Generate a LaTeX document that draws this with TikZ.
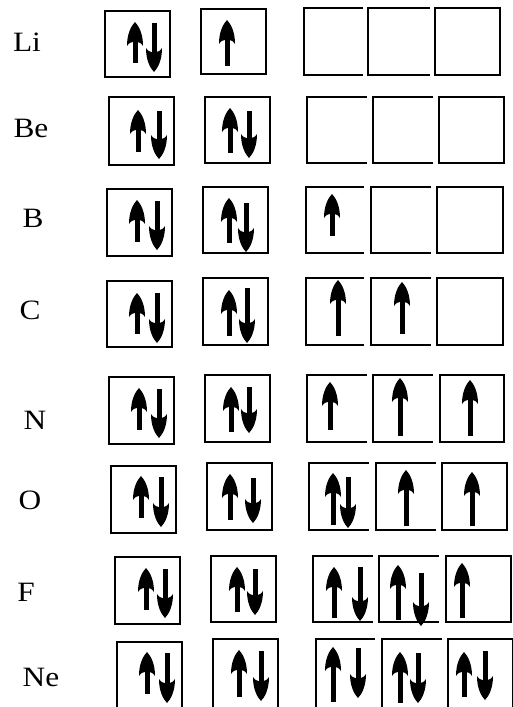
\documentclass[tikz,border=0pt]{standalone}
\usepackage{fontspec}
\setmainfont{Liberation Serif}
\newcommand\headpath{(0,0) .. controls (-4,-4) and (-8,-12) .. (-8,-24)
     .. controls (-6,-21) and (-4,-20) .. (-2.5,-20) -- (2.5,-20)
     .. controls (4,-20) and (6,-21) .. (8,-24)
     .. controls (8,-12) and (4,-4) .. (0,0) -- cycle}
\newcommand\upar[3]{%
  \fill (#1-2.5,-#3) rectangle (#1+2.5,-#2-19);
  \fill[shift={(#1,-#2)}] \headpath;}
\newcommand\dnar[3]{%
  \fill (#1-2.5,-#2) rectangle (#1+2.5,-#3+19);
  \fill[shift={(#1,-#3)},yscale=-1] \headpath;}
% square box: left top right bottom (pixels)
\newcommand\sq[4]{\draw[boxline] (#1,-#2) rectangle (#3,-#4);}
% p group: x1 x2 x3 end1 end2 right top bottom
\newcommand\pgroup[8]{%
  \draw[boxline] (#4,-#7) -- (#1,-#7) -- (#1,-#8) -- (#4,-#8);
  \draw[boxline] (#5,-#7) -- (#2,-#7) -- (#2,-#8) -- (#5,-#8);
  \draw[boxline] (#6,-#7) -- (#3,-#7) -- (#3,-#8) -- (#6,-#8) -- cycle;
  \draw[line width=2.6pt] (#2,-#7-4) -- (#2,-#8+4);
  \draw[line width=2.6pt] (#3,-#7-4) -- (#3,-#8+4);}
\begin{document}
\begin{tikzpicture}[x=1pt,y=1pt,
  boxline/.style={line width=1.6pt},
  elem/.style={font=\fontsize{28}{30}\selectfont,inner sep=0pt,anchor=center,
    transform shape,xscale=1.12}]
\useasboundingbox (0,0) rectangle (512,-707);
\node[elem] (li) at (27,-42) {Li};
\node[elem] (be) at (31,-128) {Be};
\node[elem] (b) at (33,-218) {B};
\node[elem] (c) at (30,-310) {C};
\node[elem] (n) at (35,-420) {N};
\node[elem] (o) at (30,-500) {O};
\node[elem] (f) at (26,-592) {F};
\node[elem] (ne) at (41,-677) {Ne};
% Li
\sq{105}{11}{170}{77}\sq{201}{9}{266}{74}
\pgroup{304}{368}{435}{363}{430}{500}{8}{75}
\upar{135}{22}{63}\dnar{154}{23}{72}
\upar{227}{20}{66}
% Be
\sq{109}{97}{174}{165}\sq{205}{97}{270}{163}
\pgroup{307}{373}{439}{367}{433}{504}{97}{163}
\upar{138}{110}{152}\dnar{159}{111}{159}
\upar{230}{108}{153}\dnar{249}{111}{158}
% B
\sq{107}{189}{172}{256}\sq{203}{187}{268}{253}
\pgroup{306}{371}{437}{364}{431}{503}{187}{253}
\upar{137}{200}{242}\dnar{157}{201}{250}
\upar{229}{198}{243}\dnar{246}{203}{252}
\upar{332}{194}{236}
% C
\sq{107}{281}{172}{347}\sq{203}{278}{268}{345}
\pgroup{306}{371}{437}{364}{431}{503}{278}{345}
\upar{137}{293}{334}\dnar{157}{293}{343}
\upar{229}{290}{336}\dnar{247}{288}{343}
\upar{338}{280}{336}
\upar{402}{282}{334}
% N
\sq{109}{377}{174}{444}\sq{205}{375}{270}{442}
\pgroup{307}{373}{440}{367}{433}{504}{375}{442}
\upar{139}{388}{430}\dnar{159}{389}{438}
\upar{231}{387}{432}\dnar{249}{387}{433}
\upar{330}{382}{430}
\upar{400}{378}{436}
\upar{470}{380}{436}
% O
\sq{111}{466}{176}{533}\sq{207}{463}{272}{530}
\pgroup{309}{376}{442}{369}{436}{507}{463}{530}
\upar{141}{476}{518}\dnar{161}{477}{527}
\upar{230}{474}{520}\dnar{253}{478}{523}
\upar{333}{473}{525}\dnar{348}{477}{528}
\upar{406}{470}{526}
\upar{472}{472}{526}
% F
\sq{115}{557}{180}{624}\sq{211}{556}{276}{622}
\pgroup{313}{379}{446}{373}{439}{511}{556}{622}
\upar{146}{568}{610}\dnar{165}{569}{618}
\upar{237}{567}{612}\dnar{255}{569}{615}
\upar{334}{567}{618}\dnar{360}{567}{621}
\upar{398}{565}{620}\dnar{421}{573}{626}
\upar{462}{563}{618}
% Ne
\sq{117}{642}{182}{712}\sq{213}{639}{278}{712}
\pgroup{316}{382}{448}{375}{442}{513}{639}{712}
\upar{147}{652}{694}\dnar{167}{653}{703}
\upar{239}{650}{697}\dnar{261}{651}{701}
\upar{333}{647}{702}\dnar{358}{648}{698}
\upar{400}{652}{703}\dnar{418}{653}{703}
\upar{464}{652}{697}\dnar{485}{651}{700}
\end{tikzpicture}
\end{document}
